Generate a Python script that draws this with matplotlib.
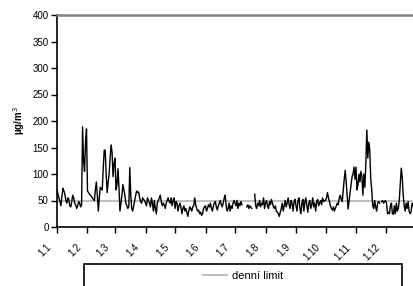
import numpy as np
import matplotlib.pyplot as plt
import matplotlib.transforms as mtransforms
from matplotlib.lines import Line2D
from matplotlib.patches import Rectangle

nan = np.nan

# denni koncentrace PM10 (ug/m3), po mesicich
leden = [70, 62, 55, 48, 40, 58, 73, 68, 62, 50, 45, 55, 52, 40, 38, 48, 60, 55, 45, 42,
         35, 40, 48, 45, 38, 42, 189, 125, 105, 160, 185]
unor = [68, 65, 62, 60, 58, 55, 52, 50, 70, 85, 60, 30, 55, 75, 72, 70, 110, 145, 145, 100,
        65, 85, 100, 130, 155, 140, 95, 120]
brezen = [130, 70, 80, 110, 75, 30, 45, 60, 80, 70, 60, 45, 40, 35, 38, 112, 60, 35, 30, 40,
          50, 60, 68, 65, 66, 55, 48, 45, 55, 52, 50]
duben = [45, 40, 55, 50, 45, 38, 55, 45, 30, 50, 35, 25, 45, 50, 55, 60, 48, 40, 45, 42,
         35, 45, 50, 55, 48, 45, 55, 40, 50, 55]
kveten = [35, 48, 45, 30, 40, 45, 38, 25, 35, 40, 30, 35, 28, 20, 30, 38, 35, 30, 38, 40,
          55, 42, 35, 30, 32, 25, 28, 22, 25, 35, 38]
cerven = [40, 30, 35, 42, 38, 45, 35, 30, 40, 45, 48, 38, 32, 40, 45, 50, 42, 38, 45, 55,
          60, 40, 30, 35, 45, 30, 40, 35, 45, 50]
cervenec = [45, 40, 50, 35, 45, 40, 48, 42, nan, nan, nan, nan, 38, 42, 35, 40, 38, 35, nan, nan,
            62, 40, 35, 45, 40, 50, 38, 45, 42, 55, 35]
srpen = [45, 50, 40, 35, 48, 42, 52, 45, 38, 35, 40, 30, 28, 25, 20, 28, 35, 45, 30, 40,
         50, 38, 45, 55, 42, 35, 50, 45, 30, 48, 52]
zari = [40, 30, 50, 55, 35, 25, 45, 52, 30, 48, 55, 40, 28, 45, 50, 35, 42, 55, 38, 45,
        30, 48, 52, 40, 45, 50, 42, 55, 48, 50]
rijen = [50, 55, 65, 55, 48, 40, 35, 32, 38, 30, 35, 40, 45, 42, 55, 60, 52, 48, 70, 90,
         107, 85, 60, 34, 50, 65, 80, 95, 100, 113, 90]
listopad = [113, 70, 80, 100, 85, 105, 95, 60, 100, 75, 120, 183, 130, 160, 145, 90, 70, 40, 35, 50,
            38, 30, 45, 48, 45, nan, 48, 50, 45, 48]
prosinec = [50, 45, 25, 28, 25, 40, 45, 25, 24, 40, 25, 45, 30, 35, 50, 80, 111, 95, 60, 40,
            30, 45, 35, 48, 30, 25, 28, 45, 40, 35, 30]

hodnoty = (leden + unor + brezen + duben + kveten + cerven + cervenec + srpen + zari
           + rijen + listopad + prosinec)
delky_mesicu = [31, 28, 31, 30, 31, 30, 31, 31, 30, 31, 30, 31]
popisky = ['1.1', '1.2', '1.3', '1.4', '1.5', '1.6', '1.7', '1.8', '1.9', '1.10', '1.11', '1.12']
denni_limit = 50

plt.rcParams['font.family'] = ['Liberation Sans', 'DejaVu Sans']

fig = plt.figure(figsize=(4.14, 2.86), dpi=100)
ax = fig.add_axes([57 / 414, 1 - 227 / 286, 359 / 414, 212 / 286])

dny = np.arange(len(hodnoty))
ax.plot(dny, hodnoty, color='black', lw=1.0)
ax.axhline(denni_limit, color='#c0c0c0', lw=1.5, zorder=1)

ax.set_xlim(0, 365)
ax.set_ylim(0, 400)
ax.set_yticks(np.arange(0, 401, 50))
ax.set_xticks(np.concatenate([[0], np.cumsum(delky_mesicu)[:-1]]))
ax.set_xticklabels(popisky, rotation=45, ha='right')
ax.tick_params(axis='both', labelsize=7, length=4, width=1, direction='out', color='black')
ax.tick_params(axis='x', pad=7)
ax.tick_params(axis='y', pad=2)

# popisky osy x o kousek doleva
posun = mtransforms.ScaledTranslation(-4 / 100, 0, fig.dpi_scale_trans)
for lbl in ax.get_xticklabels():
    lbl.set_transform(lbl.get_transform() + posun)

ax.spines['right'].set_visible(False)
ax.spines['top'].set_color('#808080')
ax.spines['top'].set_linewidth(1.8)
ax.spines['left'].set_linewidth(1.2)
ax.spines['bottom'].set_linewidth(1.2)

ax.set_ylabel('µg/m$^3$', fontsize=7, fontweight='bold', labelpad=4)

# ramecek legendy (presahuje spodni okraj obrazku)
fig.patches.append(Rectangle((84 / 414, -0.05), (402 - 84) / 414, (1 - 264 / 286) + 0.05,
                             transform=fig.transFigure, fill=False, edgecolor='black', lw=1.2))
fig.legend(handles=[Line2D([], [], color='#c0c0c0', lw=1.5, label='denní limit')],
           loc='center', bbox_to_anchor=(243 / 414, 1 - 276 / 286), frameon=False,
           fontsize=8, handlelength=2.2, handletextpad=0.4)

fig.savefig('out.png', dpi=100)
